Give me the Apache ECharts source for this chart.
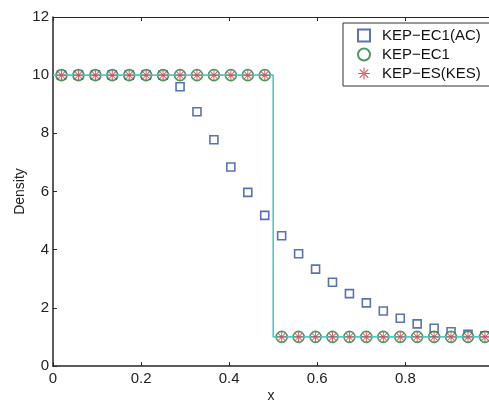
<!DOCTYPE html>
<html>
<head>
<meta charset="utf-8">
<script src="https://cdn.jsdelivr.net/npm/echarts@6/dist/echarts.min.js"></script>
<style>
html,body{margin:0;padding:0;background:#fff;}
#c{width:489px;height:401px;}
</style>
</head>
<body>
<div id="c"></div>
<script>
// sample positions
var xs = [0.0192,0.0577,0.0962,0.1346,0.1731,0.2115,0.2500,0.2885,0.3269,0.3654,0.4038,0.4423,0.4808,
          0.5192,0.5577,0.5962,0.6346,0.6731,0.7115,0.7500,0.7885,0.8269,0.8654,0.9038,0.9423,0.9808];
var acValues = [10,10,10,10,10,10,10,9.60,8.74,7.78,6.84,5.97,5.18,
                4.48,3.86,3.33,2.88,2.49,2.17,1.89,1.64,1.45,1.30,1.18,1.09,1.04];
var ec1Values = [10,10,10,10,10,10,10,10,10,10,10,10,10,
                 1,1,1,1,1,1,1,1,1,1,1,1,1];
var esValues = [10,10,10,10,10,10,10,10,10,10,10,10,10,
                1,1,1,1,1,1,1,1,1,1,1,1,1];
var exactX = [0,0.5,0.5,1];
var exactY = [10,10,1,1];
var seriesNames = ['KEP\u2212EC1(AC)','KEP\u2212EC1','KEP\u2212ES(KES)'];
var yTicks = [0,2,4,6,8,10,12];
var xTicks = [0,0.2,0.4,0.6,0.8];

function pairs(x,y){return x.map(function(v,i){return [v,y[i]];});}

var star = 'path://M-0.9,-10L0.9,-10L0.9,10L-0.9,10Z M-10,-0.9L10,-0.9L10,0.9L-10,0.9Z M-6.43,-7.7L7.7,6.43L6.43,7.7L-7.7,-6.43Z M-6.43,7.7L7.7,-6.43L6.43,-7.7L-7.7,6.43Z';
var font = 'Liberation Sans, Arial, sans-serif';

var chart = echarts.init(document.getElementById('c'), null, {renderer:'canvas'});
chart.setOption({
  animation:false,
  backgroundColor:'#fff',
  grid:{left:53,top:17,right:0,bottom:35,containLabel:false,outerBoundsMode:'none'},
  legend:{
    orient:'vertical', left:343, top:23,
    data:seriesNames,
    borderColor:'#333', borderWidth:1, backgroundColor:'#fff',
    padding:[5,10,5,14], itemGap:4, itemWidth:12, itemHeight:12,
    textStyle:{fontFamily:font,fontSize:15,color:'#111',padding:[0,0,0,7]}
  },
  xAxis:[{
    type:'value', min:xTicks[0], max:0.99, interval:0.2,
    name:'x', nameLocation:'middle', nameGap:23, nameMoveOverlap:false,
    nameTextStyle:{fontFamily:font,fontSize:14,color:'#222'},
    axisLine:{show:true,onZero:false,lineStyle:{color:'#262626',width:1.5}},
    axisTick:{show:true,inside:true,length:4,lineStyle:{color:'#262626'}},
    axisLabel:{fontFamily:font,fontSize:15,color:'#222',margin:5,showMaxLabel:false,
      formatter:function(v){return xTicks.indexOf(Math.round(v*10)/10)>=0?String(Math.round(v*10)/10):'';}},
    splitLine:{show:false}
  },{
    type:'value', position:'top', min:xTicks[0], max:0.99, interval:0.2,
    axisLine:{show:true,onZero:false,lineStyle:{color:'#262626',width:1}},
    axisTick:{show:true,inside:true,length:4,lineStyle:{color:'#262626'}},
    axisLabel:{show:false}, splitLine:{show:false}
  }],
  yAxis:{
    type:'value', min:yTicks[0], max:yTicks[yTicks.length-1], interval:2,
    name:'Density', nameLocation:'middle', nameGap:26, nameMoveOverlap:false,
    nameTextStyle:{fontFamily:font,fontSize:14,color:'#222'},
    axisLine:{show:true,onZero:false,lineStyle:{color:'#262626',width:1.5}},
    axisTick:{show:true,inside:true,length:4,lineStyle:{color:'#262626'}},
    axisLabel:{fontFamily:font,fontSize:15,color:'#222',margin:4},
    splitLine:{show:false}
  },
  series:[
    {name:seriesNames[0], type:'scatter', data:pairs(xs,acValues), symbol:'rect', symbolSize:8, z:2,
     itemStyle:{color:'rgba(0,0,0,0)',borderColor:'#2f4fa0',borderWidth:1.6}},
    {name:seriesNames[1], type:'scatter', data:pairs(xs,ec1Values), symbol:'circle', symbolSize:11, z:3,
     itemStyle:{color:'#fff',borderColor:'#1d7f3c',borderWidth:1.6}},
    {name:'exact', type:'line', data:pairs(exactX,exactY), symbol:'none', z:4,
     lineStyle:{color:'#4fc8c8',width:1.6}},
    {name:seriesNames[2], type:'scatter', data:pairs(xs,esValues), symbol:star, symbolSize:10, z:5,
     itemStyle:{color:'#e8242c'}}
  ]
});
</script>
</body>
</html>
